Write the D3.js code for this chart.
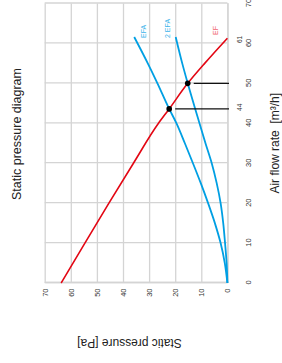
<!DOCTYPE html>
<html>
<head>
<meta charset="utf-8">
<script src="https://cdn.jsdelivr.net/npm/d3@7"></script>
<style>
    body { margin: 0; background: #fff; }
    text { font-family: "Liberation Sans", Arial, sans-serif; }
    .grid line, .grid path { stroke: #d4d4d4; stroke-width: 1.3; }
</style>
</head>
<body>
<div id="chart"></div>
<script>
// air flow [m3/h] vs static pressure [Pa]
const flowTicks = [0, 10, 20, 30, 40, 50, 60, 70];
const pressureTicks = [0, 10, 20, 30, 40, 50, 60, 70];

const efCurve = [[0, 63.7], [10, 54.6], [20, 45.4], [30, 36.0], [40, 26.4], [43.6, 22.3], [50, 15.2], [55, 8.7], [61.3, 0]];
const efaCurve = [[0, 0], [5, 1.0], [10, 2.6], [15, 4.8], [20, 7.4], [25, 10.2], [30, 13.2], [35, 16.3], [40, 19.5], [43.6, 22.3], [50, 26.8], [55, 30.5], [61.6, 35.7]];
const efa2Curve = [[0, 0], [5, 0.3], [10, 0.9], [15, 1.6], [20, 2.6], [25, 4.1], [30, 6.0], [35, 8.4], [40, 10.7], [50, 15.2], [55, 17.3], [61.6, 19.8]];

const curveNames = ['EF', 'EFA', '2 EFA'];
const operatingPoints = [[43.6, 22.3], [50, 15.2]];
const markedFlows = [44, 61];

const red = '#e30613', blue = '#009fe3';

// whole chart is drawn normally, then laid on its side (flow goes up the page)
let svg = d3.select('#chart').append('svg')
    .attr('width', 282)
    .attr('height', 363);
let g = svg.append('g').attr('transform', 'translate(0,363) rotate(-90)');

let x = d3.scaleLinear().domain([0, 70]).range([80, 359.5]);
let y = d3.scaleLinear().domain([0, 70]).range([227.4, 44.7]);

// grid + flow labels
g.append('g')
    .attr('class', 'grid')
    .attr('transform', `translate(0,${y(0)})`)
    .call(d3.axisBottom(x).tickValues(flowTicks).tickSize(-(y(0) - y(70))).tickSizeOuter(0).tickPadding(18));
// grid + pressure labels
g.append('g')
    .attr('class', 'grid')
    .attr('transform', `translate(${x(0)},0)`)
    .call(d3.axisLeft(y).tickValues(pressureTicks).tickSize(-(x(70) - x(0))).tickSizeOuter(0).tickPadding(5.5));

g.selectAll('.grid text')
    .attr('font-family', '"Liberation Sans", Arial, sans-serif')
    .attr('font-size', 7.5)
    .attr('fill', '#333');

// curves
let line = d3.line()
    .x(d => x(d[0]))
    .y(d => y(d[1]))
    .curve(d3.curveMonotoneX);

[[efCurve, red, 1.6], [efaCurve, blue, 1.8], [efa2Curve, blue, 1.8]].forEach(([data, color, w]) => {
    g.append('path')
        .datum(data)
        .attr('fill', 'none')
        .attr('stroke', color)
        .attr('stroke-width', w)
        .attr('d', line);
});

// curve names
g.selectAll('.curve-name')
    .data(curveNames)
    .enter().append('text')
    .attr('class', 'curve-name')
    .attr('x', (d, i) => [328, 325, 325][i])
    .attr('y', (d, i) => [218, 146, 170][i])
    .attr('font-size', 7)
    .attr('fill', (d, i) => i == 0 ? '#f0646e' : '#3bb4ea')
    .text(d => d);

// operating points and drop lines
operatingPoints.forEach(p => {
    g.append('line')
        .attr('x1', x(p[0])).attr('x2', x(p[0]))
        .attr('y1', y(p[1]) + 6).attr('y2', y(0) + 1.6)
        .attr('stroke', '#111')
        .attr('stroke-width', 1.3);
    g.append('circle')
        .attr('cx', x(p[0]))
        .attr('cy', y(p[1]))
        .attr('r', 2.8)
        .attr('fill', '#000');
});

g.selectAll('.mark')
    .data(markedFlows)
    .enter().append('text')
    .attr('class', 'mark')
    .attr('x', d => x(d))
    .attr('y', 242)
    .attr('text-anchor', 'middle')
    .attr('font-size', 6.5)
    .attr('fill', '#333')
    .text(d => d);

// titles
g.append('text')
    .attr('x', 229).attr('y', 21)
    .attr('text-anchor', 'middle')
    .attr('font-size', 12.5)
    .attr('fill', '#222')
    .text('Static pressure diagram');

g.append('text')
    .attr('x', (x(0) + x(70)) / 2).attr('y', 279)
    .attr('text-anchor', 'middle')
    .attr('font-size', 12)
    .attr('fill', '#222')
    .style('white-space', 'pre')
    .text('Air flow rate  [m³/h]');

g.append('text')
    .attr('transform', 'translate(23.7,129.5) rotate(-90)')
    .attr('text-anchor', 'middle')
    .attr('font-size', 12)
    .attr('fill', '#222')
    .text('Static pressure [Pa]');
</script>
</body>
</html>
